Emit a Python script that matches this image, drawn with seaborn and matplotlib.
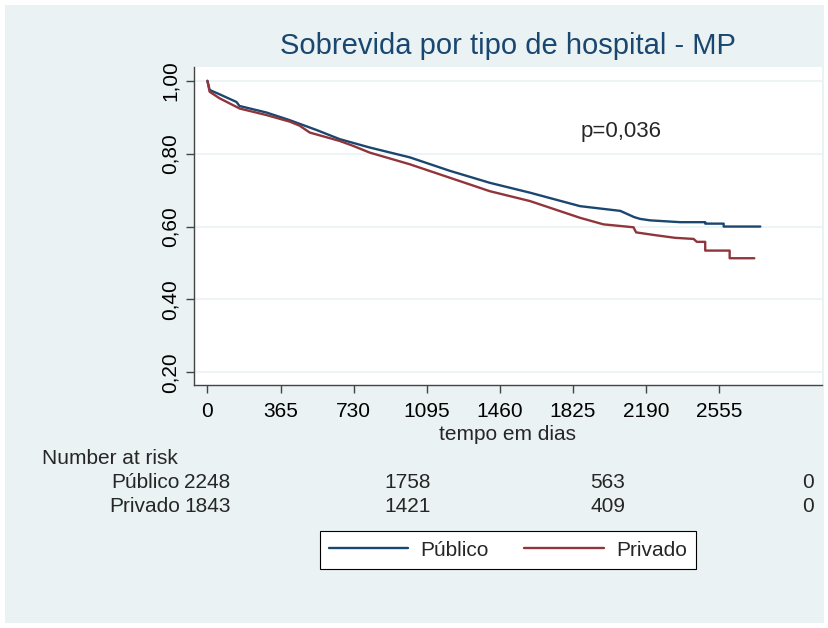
import numpy as np
import pandas as pd
import matplotlib
matplotlib.use("Agg")
import matplotlib.pyplot as plt
import matplotlib.transforms as mtransforms
from matplotlib.patches import Rectangle
import seaborn as sns

# Kaplan-Meier curves (days, survival)
publico_t = [0, 11, 61, 145, 160, 295, 411, 545, 660, 810, 1010, 1210, 1410, 1610,
             1860, 2061, 2130, 2160, 2210, 2360, 2485, 2485, 2577, 2577, 2760]
publico_s = [1.0, 0.975, 0.963, 0.942, 0.931, 0.913, 0.892, 0.865, 0.840, 0.817, 0.790,
             0.753, 0.720, 0.693, 0.656, 0.643, 0.626, 0.621, 0.617, 0.612, 0.612,
             0.608, 0.608, 0.600, 0.600]
privado_t = [0, 11, 61, 161, 295, 411, 460, 511, 660, 725, 810, 1010, 1210, 1410, 1610,
             1860, 1977, 2127, 2140, 2227, 2335, 2427, 2443, 2485, 2485, 2607, 2607, 2730]
privado_s = [1.0, 0.970, 0.952, 0.924, 0.906, 0.888, 0.877, 0.858, 0.835, 0.822, 0.803,
             0.771, 0.734, 0.697, 0.670, 0.624, 0.606, 0.598, 0.584, 0.577, 0.569, 0.566,
             0.558, 0.558, 0.534, 0.534, 0.513, 0.513]

grupos = ["Público", "Privado"]
cores = ["#1A476F", "#90353B"]

risk_times = [0, 1000, 2000, 3000]
risk_publico = [2248, 1758, 563, 0]
risk_privado = [1843, 1421, 409, 0]

xticks = [0, 365, 730, 1095, 1460, 1825, 2190, 2555]
yticks = [0.2, 0.4, 0.6, 0.8, 1.0]
ytick_labels = ["0,20", "0,40", "0,60", "0,80", "1,00"]

BG = "#EAF2F3"
W, H = 829, 628
FS = 15


def main():
    df = pd.concat([
        pd.DataFrame({"t": publico_t, "s": publico_s, "grupo": grupos[0]}),
        pd.DataFrame({"t": privado_t, "s": privado_s, "grupo": grupos[1]}),
    ], ignore_index=True)

    sns.set_style("white")
    plt.rcParams["font.family"] = ["Liberation Sans", "DejaVu Sans"]

    fig = plt.figure(figsize=(W / 100, H / 100), dpi=100, facecolor="white")
    fig.patches.append(Rectangle((5 / W, 5 / H), 1 - 10 / W, 1 - 10 / H,
                                 transform=fig.transFigure, facecolor=BG,
                                 edgecolor="none", zorder=-10))

    ax = fig.add_axes([194 / W, 1 - 385 / H, (822 - 194) / W, (385 - 67) / H])
    ax.set_facecolor("white")

    sns.lineplot(data=df, x="t", y="s", hue="grupo", palette=dict(zip(grupos, cores)),
                 estimator=None, sort=False, legend=False, linewidth=1.7, ax=ax)

    ax.set_xlim(-67, 3068)
    ax.set_ylim(0.165, 1.038)
    ax.set_xticks(xticks)
    ax.set_xticklabels([str(v) for v in xticks], fontsize=FS)
    ax.set_yticks(yticks)
    ax.set_yticklabels(ytick_labels, rotation=90, va="center", fontsize=FS)
    for y in yticks:
        ax.axhline(y, color=BG, linewidth=1.2, zorder=0)
    ax.tick_params(axis="both", direction="out", length=6, width=1, color="#444444",
                   pad=4, labelcolor="black")
    ax.tick_params(axis="x", pad=6)
    ax.xaxis.set_ticks_position("bottom")
    ax.yaxis.set_ticks_position("left")
    for side in ["top", "right"]:
        ax.spines[side].set_visible(False)
    for side in ["left", "bottom"]:
        ax.spines[side].set_color("#444444")
        ax.spines[side].set_linewidth(1.0)
    ax.set_xlabel("tempo em dias", fontsize=FS, labelpad=3)
    ax.set_ylabel("")

    ax.text(2066, 0.862, "p=0,036", fontsize=FS + 1, ha="center", va="center")

    fig.text(508 / W, 1 - 46 / H, "Sobrevida por tipo de hospital - MP", ha="center",
             va="center", fontsize=21, color="#1A476F")

    # number at risk table
    trans = mtransforms.blended_transform_factory(ax.transData, fig.transFigure)
    fig.text(42 / W, 1 - 458 / H, "Number at risk", fontsize=FS, ha="left", va="center")
    for nome, vals, ypix in [(grupos[0], risk_publico, 482), (grupos[1], risk_privado, 507)]:
        fig.text(180 / W, 1 - ypix / H, nome, fontsize=FS, ha="right", va="center")
        for t, n in zip(risk_times, vals):
            ax.text(t, 1 - ypix / H, str(n), transform=trans, fontsize=FS,
                    ha="center", va="center", clip_on=False)

    handles = ax.get_lines()[:2]
    leg = fig.legend(handles, grupos, loc="center", bbox_to_anchor=(508 / W, 1 - 550 / H),
                     ncol=2, fontsize=FS, frameon=True, fancybox=False, handlelength=3.8,
                     columnspacing=1.7, borderpad=0.45, handletextpad=0.6)
    leg.get_frame().set_edgecolor("black")
    leg.get_frame().set_linewidth(0.8)
    leg.get_frame().set_facecolor("white")
    leg.get_frame().set_alpha(1)

    fig.savefig("out.png", dpi=100, facecolor=fig.get_facecolor())


if __name__ == "__main__":
    main()
